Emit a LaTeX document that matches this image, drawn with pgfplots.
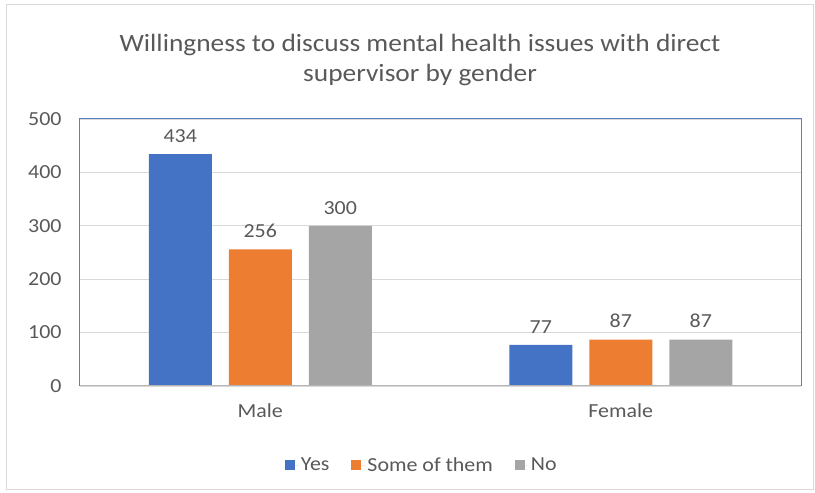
\documentclass[border=0pt]{standalone}
\usepackage{pgfplots}
\pgfplotsset{compat=1.18}
\usepackage{fontspec}
\setmainfont{Carlito}[FakeStretch=1.1]
\definecolor{cblue}{HTML}{4472C4}
\definecolor{corange}{HTML}{ED7D31}
\definecolor{cgray}{HTML}{A5A5A5}
\definecolor{txt}{HTML}{595959}
\definecolor{gridc}{HTML}{D9D9D9}
\definecolor{framec}{HTML}{5B7FC4}
\begin{document}
\begin{tikzpicture}[x=1bp,y=1bp]
\path[use as bounding box] (-80,-107) rectangle (735,386);
\draw[gridc, line width=1bp] (-73,-104) rectangle (733,381);
\begin{axis}[
  name=ax,
  at={(0,0)}, anchor=south west,
  scale only axis, width=721bp, height=267bp,
  xmin=-0.5, xmax=1.5, ymin=0, ymax=500,
  ytick={0,100,...,500},
  xtick={0,1}, xticklabels={Male,Female},
  major tick length=0pt,
  ymajorgrids, grid style={gridc, line width=0.8bp},
  axis line style={draw=none},
  ybar=0pt, bar width=63bp,
  tick label style={font=\fontsize{20}{22}\selectfont, text=txt},
  /pgf/number format/assume math mode=true,
  yticklabel style={xshift=-15bp},
  xticklabel style={yshift=-14bp},
  nodes near coords,
  nodes near coords style={font=\fontsize{20}{22}\selectfont, text=txt, yshift=8bp},
  legend style={at={(axis description cs:0.474,-0.296)}, anchor=center, draw=none,
    font=\fontsize{20}{22}\selectfont, text=txt,
    /tikz/every even column/.append style={column sep=20bp}},
  legend columns=3,
  legend image code/.code={\fill[#1] (0bp,-5bp) rectangle (10bp,5bp); \path (0bp,0bp) -- (14bp,0bp);},
]
\addplot[fill=cblue, draw=none, bar shift=-80bp] coordinates {(0,434) (1,77)};
\addplot[fill=corange, draw=none, bar shift=0bp] coordinates {(0,256) (1,87)};
\addplot[fill=cgray, draw=none, bar shift=80bp] coordinates {(0,300) (1,87)};
\legend{Yes, Some of them, No}
\end{axis}
\draw[framec, line width=1bp] (ax.south west) -- (ax.north west) -- (ax.north east) -- (ax.south east);
\draw[gridc!60!gray, line width=1bp] (ax.south west) -- (ax.south east);
\node[text=txt, font=\fontsize{25}{30}\selectfont, align=center] at (340,326)
  {Willingness to discuss mental health issues with direct\\supervisor by gender};
\end{tikzpicture}
\end{document}
